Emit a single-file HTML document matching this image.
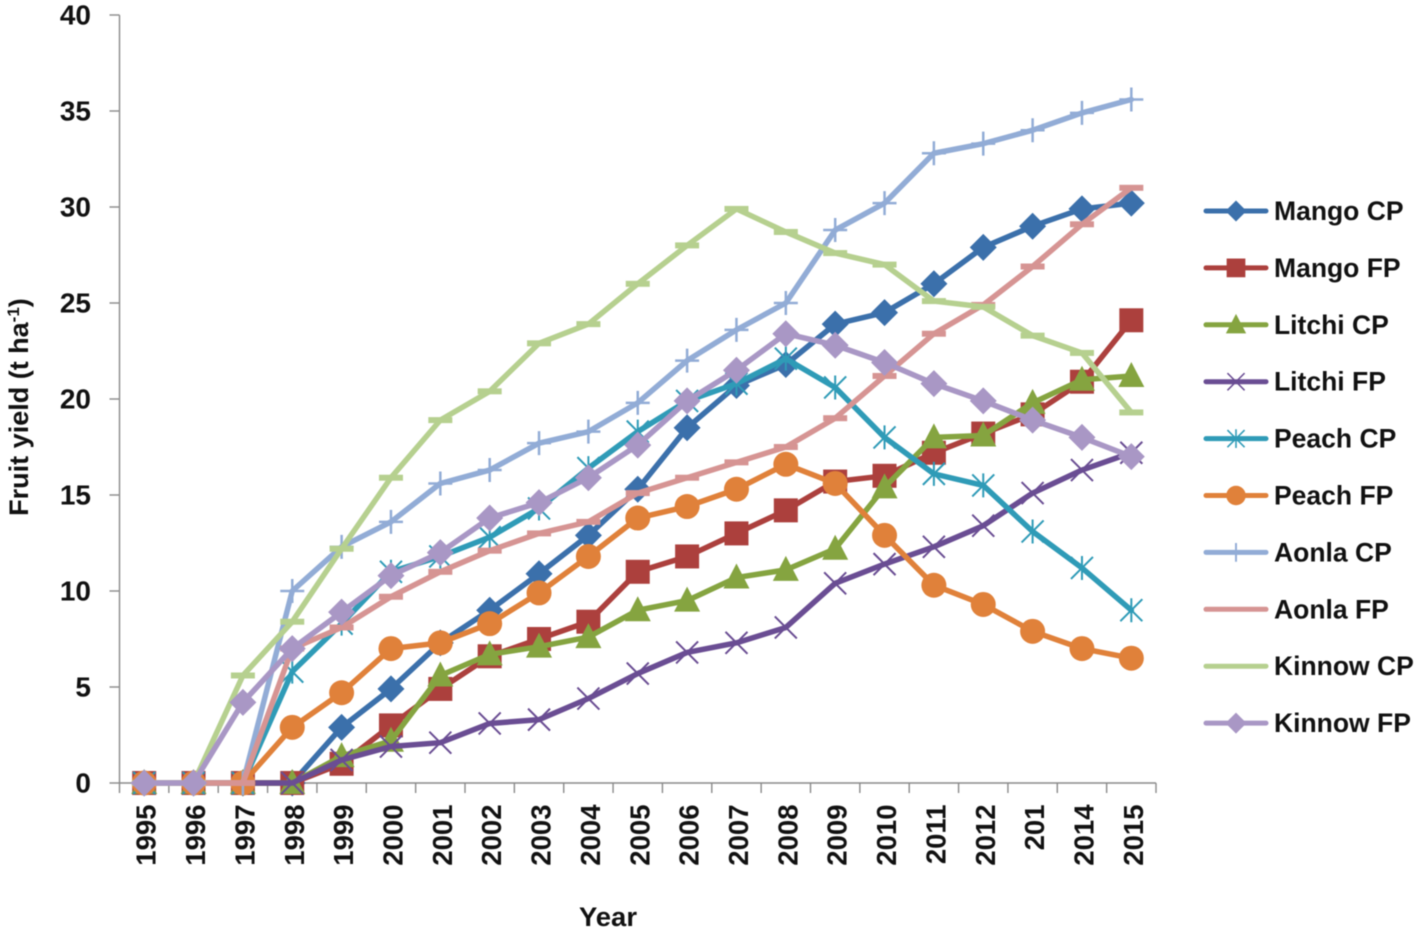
<!DOCTYPE html>
<html lang="en">
<head>
<meta charset="utf-8">
<title>Fruit yield chart</title>
<style>
html,body{margin:0;padding:0;background:#fff;width:1417px;height:931px;overflow:hidden}
svg{display:block;filter:blur(0.4px)}
text{font-family:"Liberation Sans",sans-serif;font-weight:bold;fill:#111}
</style>
</head>
<body>
<svg id="chart" xmlns="http://www.w3.org/2000/svg" width="1417" height="931" viewBox="0 0 1417 931">
  <g id="gridAxes"></g>
  <g id="seriesLayer"></g>
  <g id="legendLayer"></g>
  <text transform="translate(28,407) rotate(-90)" text-anchor="middle" font-size="27">Fruit yield (t ha<tspan dy="-9" font-size="17">-1</tspan><tspan dy="9">)</tspan></text>
  <text x="608" y="926" text-anchor="middle" font-size="27" textLength="58" lengthAdjust="spacingAndGlyphs">Year</text>
</svg>
<script>
const categories = ["1995","1996","1997","1998","1999","2000","2001","2002","2003","2004","2005","2006","2007","2008","2009","2010","2011","2012","201","2014","2015"];
const yTicks = [0,5,10,15,20,25,30,35,40];
const seriesNames = ["Mango CP","Mango FP","Litchi CP","Litchi FP","Peach CP","Peach FP","Aonla CP","Aonla FP","Kinnow CP","Kinnow FP"];
const mangoCP = [0,0,0,0,2.9,4.9,7.3,9,10.9,12.9,15.3,18.5,20.7,21.8,23.9,24.5,26,27.9,29,29.9,30.2];
const mangoFP = [0,0,0,0,1,3,4.9,6.6,7.5,8.4,11,11.8,13,14.2,15.7,16,17.2,18.2,19.2,20.9,24.1];
const litchiCP = [0,0,0,0,1.4,2.2,5.6,6.7,7.1,7.6,9,9.5,10.7,11.1,12.2,15.4,18,18.1,19.8,21,21.2];
const litchiFP = [0,0,0,0,1.2,1.9,2.1,3.1,3.3,4.4,5.7,6.8,7.3,8.1,10.4,11.4,12.3,13.4,15.1,16.3,17.2];
const peachCP = [0,0,0,5.8,8.3,11,11.8,12.8,14.3,16.4,18.3,19.9,20.8,22.1,20.6,18,16.1,15.5,13.1,11.2,9];
const peachFP = [0,0,0,2.9,4.7,7,7.3,8.3,9.9,11.8,13.8,14.4,15.3,16.6,15.6,12.9,10.3,9.3,7.9,7,6.5];
const aonlaCP = [0,0,0,10,12.3,13.6,15.6,16.3,17.7,18.3,19.8,22,23.6,25,28.8,30.2,32.8,33.3,34,34.9,35.6];
const aonlaFP = [0,0,0,7,8.1,9.7,11,12.1,13,13.6,15.1,15.9,16.7,17.5,19,21.2,23.4,24.9,26.9,29.1,31];
const kinnowCP = [0,0,5.6,8.4,12.2,15.9,18.9,20.4,22.9,23.9,26,28,29.9,28.7,27.6,27,25.1,24.8,23.3,22.4,19.3];
const kinnowFP = [0,0,4.2,7,8.9,10.8,12,13.8,14.6,15.9,17.6,19.9,21.5,23.4,22.8,21.9,20.8,19.9,18.9,18,17];
const seriesValues = [mangoCP,mangoFP,litchiCP,litchiFP,peachCP,peachFP,aonlaCP,aonlaFP,kinnowCP,kinnowFP];
const seriesColors = ["#3b70ab","#ac403d","#85a440","#6a4d93","#2f9bb7","#e0813a","#92acd6","#d69493","#b6d08f","#a997c5"];
const seriesMarkers = ["diamond","square","triangle","x","star","circle","plus","dash","dash","diamond"];

const NS = "http://www.w3.org/2000/svg";
const plotLeft = 119.5, plotRight = 1156, plotTop = 15, plotBottom = 783;
const yMax = 40;
function xPos(i){ return plotLeft + (plotRight - plotLeft) * (i + 0.5) / categories.length; }
function xEdge(i){ return plotLeft + (plotRight - plotLeft) * i / categories.length; }
function yPos(v){ return plotBottom - (plotBottom - plotTop) * v / yMax; }
function make(tag, attrs, parent){
  const el = document.createElementNS(NS, tag);
  for (const k in attrs) el.setAttribute(k, attrs[k]);
  parent.appendChild(el);
  return el;
}
function drawMarker(kind, x, y, color, parent){
  let m;
  if (kind === "diamond") m = make("polygon", {points:`${x-13.5},${y} ${x},${y-13.5} ${x+13.5},${y} ${x},${y+13.5}`, fill:color}, parent);
  else if (kind === "square") m = make("rect", {x:x-12, y:y-12, width:24, height:24, fill:color}, parent);
  else if (kind === "triangle") m = make("polygon", {points:`${x},${y-14} ${x+13},${y+11} ${x-13},${y+11}`, fill:color}, parent);
  else if (kind === "circle") m = make("circle", {cx:x, cy:y, r:12.5, fill:color}, parent);
  else if (kind === "dash") m = make("rect", {x:x-12, y:y-3, width:24, height:6, fill:color}, parent);
  else {
    let d = "";
    if (kind === "x" || kind === "star") d += `M${x-11} ${y-11}L${x+11} ${y+11}M${x-11} ${y+11}L${x+11} ${y-11}`;
    if (kind === "plus" || kind === "star") d += `M${x} ${y-12}V${y+12}`;
    if (kind === "plus") d += `M${x-12} ${y}H${x+12}`;
    m = make("path", {d:d, fill:"none", stroke:color, "stroke-width":kind === "plus" ? 2.5 : 2}, parent);
  }
  return m;
}

const axes = document.getElementById("gridAxes");
const axisColor = "#8a8a8a";
const yAxisLine = make("line", {x1:plotLeft, y1:plotTop, x2:plotLeft, y2:plotBottom, stroke:axisColor, "stroke-width":1.4}, axes);


const xAxisLine = make("line", {x1:plotLeft, y1:plotBottom, x2:plotRight, y2:plotBottom, stroke:axisColor, "stroke-width":1.4}, axes);



yTicks.forEach(function(v){
  const y = yPos(v);
  const t = make("line", {x1:plotLeft - 10, y1:y, x2:plotLeft, y2:y, stroke:axisColor, "stroke-width":1.4}, axes);
  
  
  const l = make("text", {x:91, y:y + 9.5, "text-anchor":"end", "font-size":28}, axes);
  
  
  l.textContent = v;
});
for (let i = 0; i <= categories.length; i++){
  const x = xEdge(i);
  const t = make("line", {x1:x, y1:plotBottom, x2:x, y2:plotBottom + 10, stroke:axisColor, "stroke-width":1.4}, axes);
  
  
}
categories.forEach(function(c, i){
  const x = xPos(i) + 11.5;
  const l = make("text", {transform:`translate(${x},804.5) rotate(-90)`, "text-anchor":"end", "font-size":27.5}, axes);
  
  
  l.textContent = c;
});

const layer = document.getElementById("seriesLayer");
seriesValues.forEach(function(vals, s){
  const g = make("g", {}, layer);
  
  
  const pts = vals.map(function(v, i){ return xPos(i) + "," + yPos(v); }).join(" ");
  const line = make("polyline", {points:pts, fill:"none", stroke:seriesColors[s], "stroke-width":5.5, "stroke-linejoin":"round", "stroke-linecap":"round"}, g);
  
  
  vals.forEach(function(v, i){
    const m = drawMarker(seriesMarkers[s], xPos(i), yPos(v), seriesColors[s], g);
    
    
  });
});

const legend = document.getElementById("legendLayer");
seriesNames.forEach(function(name, s){
  const y = 211 + s * 56.9;
  const g = make("g", {}, legend);
  
  
  const sw = make("line", {x1:1206, y1:y, x2:1266, y2:y, stroke:seriesColors[s], "stroke-width":5, "stroke-linecap":"round"}, g);
  
  
  const kind = seriesMarkers[s];
  if (kind !== "dash"){
    const small = make("g", {transform:`translate(1236,${y}) scale(0.78)`}, g);
    
    
    drawMarker(kind, 0, 0, seriesColors[s], small);
  }
  const t = make("text", {x:1274, y:y + 9, "font-size":26.5}, g);
  
  
  t.textContent = name;
});
</script>
</body>
</html>
